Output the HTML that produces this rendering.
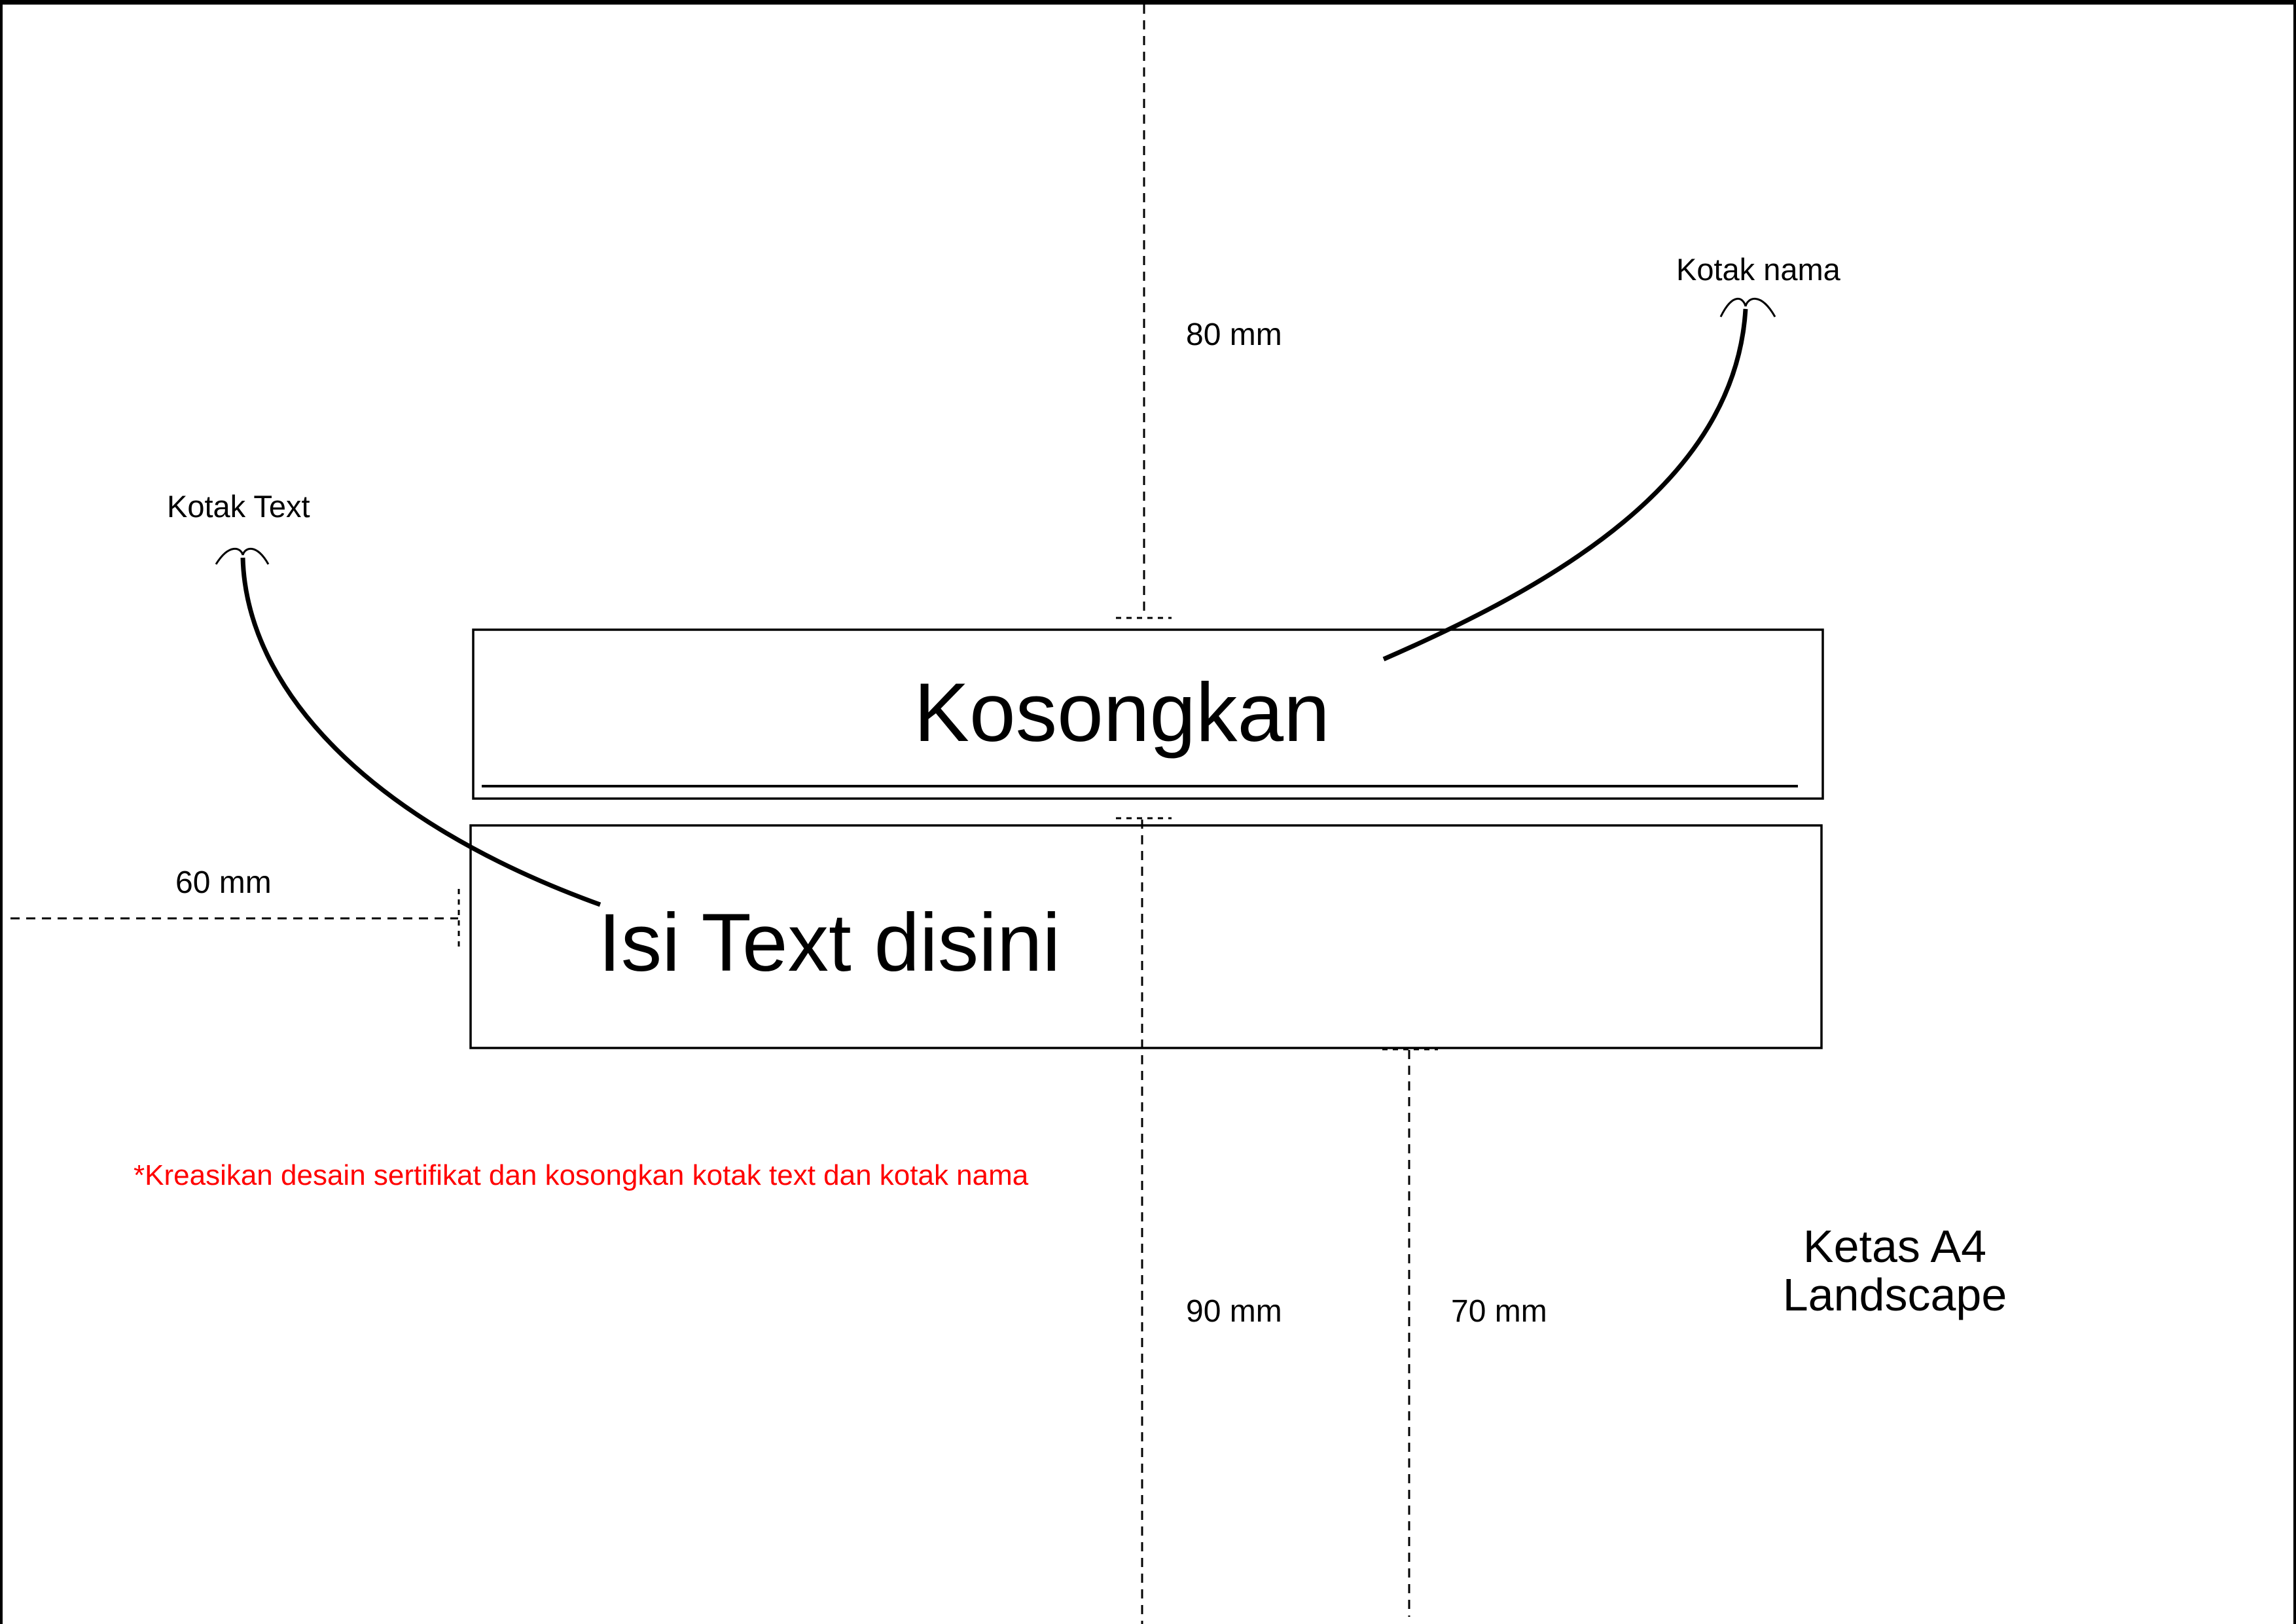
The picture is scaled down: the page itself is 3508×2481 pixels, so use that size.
<!DOCTYPE html>
<html><head><meta charset="utf-8"><style>
html,body{margin:0;padding:0;background:#fff}
svg{display:block}
text{font-family:"Liberation Sans",Arial,sans-serif}
</style></head><body>
<svg width="3508" height="2481" viewBox="0 0 3508 2481" xmlns="http://www.w3.org/2000/svg">
<rect x="0" y="0" width="3508" height="2481" fill="#fff"/>
<rect x="0" y="0" width="3508" height="7" fill="#000"/>
<rect x="0" y="0" width="4" height="2481" fill="#000"/>
<rect x="3504" y="0" width="4" height="2481" fill="#000"/>

<rect x="723" y="962" width="2062" height="258" fill="none" stroke="#000" stroke-width="3.5"/>
<line x1="736" y1="1201" x2="2747" y2="1201" stroke="#000" stroke-width="4"/>
<rect x="719" y="1261" width="2064" height="340" fill="none" stroke="#000" stroke-width="3.5"/>

<g stroke="#000" stroke-width="3" stroke-dasharray="14,10" fill="none">
<line x1="1748" y1="7" x2="1748" y2="942"/>
<line x1="1745" y1="1252" x2="1745" y2="2481"/>
<line x1="2153" y1="1604" x2="2153" y2="2470"/>
<line x1="16" y1="1403" x2="700" y2="1403"/>
</g>
<g stroke="#000" stroke-width="3" stroke-dasharray="8,8" fill="none">
<line x1="1705" y1="944" x2="1790" y2="944"/>
<line x1="1705" y1="1250" x2="1790" y2="1250"/>
<line x1="2112" y1="1603" x2="2197" y2="1603"/>
<line x1="701" y1="1358" x2="701" y2="1447"/>
</g>

<text x="1714" y="1132" font-size="127" text-anchor="middle">Kosongkan</text>
<text x="914" y="1483" font-size="125">Isi Text disini</text>
<text x="1812" y="527" font-size="48">80 mm</text>
<text x="1812" y="2019" font-size="48">90 mm</text>
<text x="2217" y="2019" font-size="48">70 mm</text>
<text x="268" y="1364" font-size="48">60 mm</text>
<text x="255" y="790" font-size="47">Kotak Text</text>
<text x="2561" y="428" font-size="47">Kotak nama</text>
<text x="204" y="1810" font-size="44" fill="#ff0000">*Kreasikan desain sertifikat dan kosongkan kotak text dan kotak nama</text>
<text x="2895" y="1928" font-size="70" text-anchor="middle">Ketas A4</text>
<text x="2895" y="2002" font-size="70" text-anchor="middle">Landscape</text>

<path d="M371 852 C376 1050 560 1253 917 1382" fill="none" stroke="#000" stroke-width="7"/>
<path d="M371 848 C368 836 350 830 330 862 M371 848 C374 836 392 830 410 862" fill="none" stroke="#000" stroke-width="3"/>
<path d="M2667 472 C2651 738 2371 895 2114 1007" fill="none" stroke="#000" stroke-width="7"/>
<path d="M2667 468 C2664 455 2648 445 2629 484 M2667 468 C2670 455 2690 445 2712 484" fill="none" stroke="#000" stroke-width="3"/>
</svg>
</body></html>
